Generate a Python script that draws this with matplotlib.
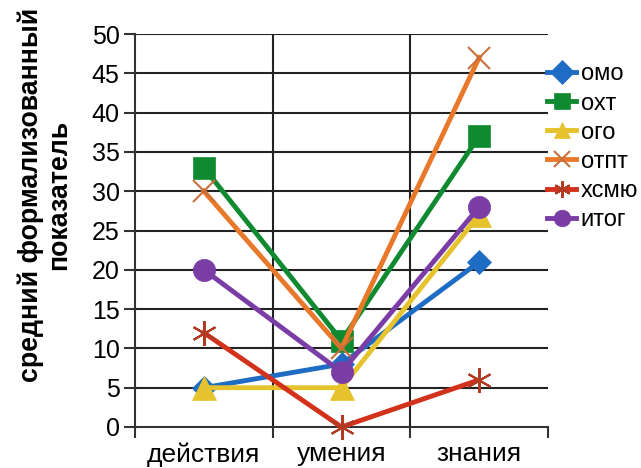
import matplotlib
matplotlib.use("Agg")
import matplotlib.pyplot as plt
import numpy as np

plt.rcParams['font.family'] = ['Liberation Sans', 'DejaVu Sans']

categories = ["действия", "умения", "знания"]
series_names = ["омо", "охт", "ого", "отпт", "хсмю", "итог"]
omo = [5, 8, 21]
oht = [33, 11, 37]
ogo = [5, 5, 27]
otpt = [30, 10, 47]
hsmyu = [12, 0, 6]
itog = [20, 7, 28]
y_ticks = [0, 5, 10, 15, 20, 25, 30, 35, 40, 45, 50]

values = [omo, oht, ogo, otpt, hsmyu, itog]
colors = ["#1E6CC4", "#108A30", "#E6C22C", "#E8782A", "#D2321C", "#7A3DA6"]
mcolors = ["#1E6CC4", "#108A30", "#E6C22C", "#C9703A", "#B03A22", "#7A3DA6"]
markers = ["D", "s", "^", "x", (6, 2, 0), "o"]
msizes = [12, 16, 17, 16, 18, 16]

fig = plt.figure(figsize=(6.41, 4.68), dpi=100)
ax = fig.add_axes([135/641, 1-427/468, (548-135)/641, (427-34)/468])

x = np.arange(len(categories))
handles = []
for name, v, c, mc, m, ms in zip(series_names, values, colors, mcolors, markers, msizes):
    mew = 1.5 if m in ("x", (6, 2, 0)) else 0.5
    h, = ax.plot(x, v, color=c, lw=3.5, marker=m, markersize=ms,
                 markerfacecolor=mc, markeredgecolor=mc, markeredgewidth=mew,
                 label=name, clip_on=False, zorder=3)
    handles.append(h)

ax.set_xlim(-0.5, 2.5)
ax.set_ylim(0, 50)
ax.set_yticks(y_ticks)
ax.set_xticks(x)
ax.set_xticklabels(categories)
ax.set_xticks([-0.5, 0.5, 1.5, 2.5], minor=True)
ax.tick_params(axis='x', which='major', length=0, pad=11, labelsize=19)
ax.tick_params(axis='x', which='minor', length=8, width=1.5, color='#333333', direction='out')
ax.tick_params(axis='y', length=8, width=1.5, color='#333333', direction='out', labelsize=18, pad=3)

for yv in y_ticks[1:]:
    ax.axhline(yv, color='#222222', lw=1.5, zorder=1)
for xv in [0.5, 1.5]:
    ax.axvline(xv, color='#222222', lw=1.5, zorder=1)

for s in ['top', 'right']:
    ax.spines[s].set_visible(False)
for s in ['left', 'bottom']:
    ax.spines[s].set_color('#333333')
    ax.spines[s].set_linewidth(1.5)

fig.text(0.070, 0.583, "средний формализованный\nпоказатель", rotation=90,
         ha='center', va='center', fontsize=19.3, fontweight='bold', linespacing=1.12)

leg = fig.legend(handles=handles, loc='upper left', bbox_to_anchor=(538/641, 1-54/468),
                 frameon=False, fontsize=17, handlelength=1.2, handletextpad=0.2,
                 labelspacing=0.3, borderaxespad=0)
for lh in leg.legend_handles:
    lh.set_markersize(12)

fig.savefig("out.png", dpi=100)
